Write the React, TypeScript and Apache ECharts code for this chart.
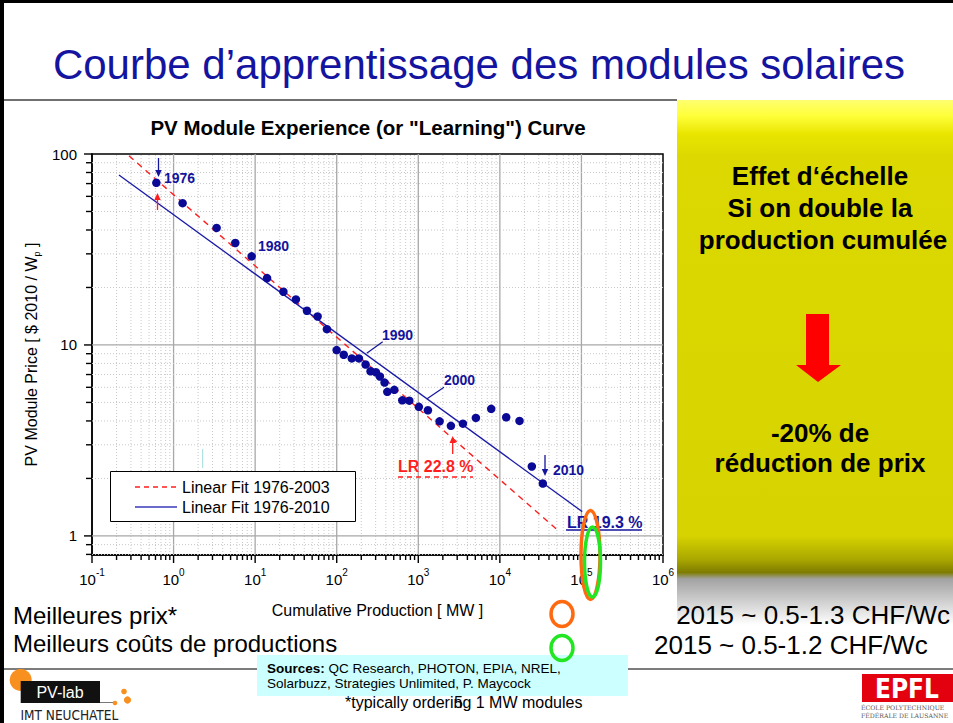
import React, { useEffect, useRef } from "react";
import * as echarts from "echarts";

const FONT = '"Liberation Sans", Arial, Helvetica, sans-serif';

// ---- data ----
const years = [
  1976, 1977, 1978, 1979, 1980, 1981, 1982, 1983, 1984, 1985, 1986, 1987,
  1988, 1989, 1990, 1991, 1992, 1993, 1994, 1995, 1996, 1997, 1998, 1999,
  2000, 2001, 2002, 2003, 2004, 2005, 2006, 2007, 2008, 2009, 2010,
];
const cumulativeMW = [
  0.615, 1.29, 3.37, 5.71, 9.06, 14.0, 22.2, 31.6, 43.2, 58.3, 75.9, 99.8,
  122, 153, 187, 226, 260, 302, 338, 386, 417, 508, 637, 776, 1016, 1312,
  1824, 2512, 3524, 5082, 7834, 11970, 17420, 24660, 33650,
];
const modulePrice = [
  70.7, 55.3, 41.0, 34.2, 29.1, 22.4, 19.0, 17.3, 15.1, 14.1, 12.1, 9.4, 8.88,
  8.5, 8.5, 7.9, 7.28, 7.2, 6.84, 6.35, 5.68, 5.82, 5.13, 5.11, 4.74, 4.55,
  3.98, 3.77, 3.87, 4.15, 4.63, 4.18, 4.0, 2.31, 1.88,
];
// fit lines, endpoints [MW, $/Wp]
const fit1976to2003 = [
  [0.284, 97.9],
  [51400, 1.07],
];
const fit1976to2010 = [
  [0.214, 77.6],
  [102300, 1.34],
];
// axes
const xMajorExp = [-1, 0, 1, 2, 3, 4, 5, 6];
const xTickLabels = ["-1", "0", "1", "2", "3", "4", "5", "6"];
const yMajorExp = [0, 1, 2];
const yTickLabels = ["1", "10", "100"];
const minorMultipliers = [2, 3, 4, 5, 6, 7, 8, 9];

const X_MIN = -1;
const X_MAX = 6;
const Y_MIN = -0.1;
const Y_MAX = 2;

function buildDecor() {
  const d: number[][] = [];
  xMajorExp.forEach((e) => d.push([0, e]));
  xMajorExp.slice(0, -1).forEach((e) =>
    minorMultipliers.forEach((m) => d.push([1, e + Math.log10(m)]))
  );
  yMajorExp.forEach((e) => d.push([2, e]));
  [-1, ...yMajorExp].forEach((e) =>
    minorMultipliers.forEach((m) => {
      const v = e + Math.log10(m);
      if (v > Y_MIN && v < Y_MAX) d.push([3, v]);
    })
  );
  return d;
}

function txt(text: string, x: number, y: number, size: number, o: any = {}) {
  const align = o.align || "left";
  return {
    type: "text",
    x,
    y,
    z: o.z ?? 20,
    silent: true,
    rotation: o.rotation || 0,
    style: {
      text,
      fill: o.color || "#000",
      fontSize: size,
      fontWeight: o.weight || "normal",
      fontFamily: o.family || FONT,
      align,
      textAlign: align,
      verticalAlign: "middle",
      textVerticalAlign: "middle",
      rich: o.rich,
      lineHeight: o.lineHeight,
    },
  };
}

function line(x1: number, y1: number, x2: number, y2: number, stroke: string, lw = 1, dash?: number[], z = 20) {
  return {
    type: "line",
    z,
    silent: true,
    shape: { x1, y1, x2, y2 },
    style: { stroke, lineWidth: lw, lineDash: dash },
  };
}

function vArrow(x: number, yFrom: number, yTo: number, color: string) {
  const dir = yTo > yFrom ? 1 : -1;
  const headLen = 7;
  return [
    line(x, yFrom, x, yTo - dir * headLen, color, 1.3),
    {
      type: "polygon",
      z: 20,
      silent: true,
      shape: {
        points: [
          [x - 3.2, yTo - dir * headLen],
          [x + 3.2, yTo - dir * headLen],
          [x, yTo],
        ],
      },
      style: { fill: color },
    },
  ];
}

function buildOption() {
  const BLUE = "#14149c";
  const RED = "#ff1e1e";
  const points = cumulativeMW.map((m, i) => [Math.log10(m), Math.log10(modulePrice[i]), years[i]]);
  const narrow = '"DejaVu Sans Condensed", "Liberation Sans Narrow", sans-serif';

  const graphic: any[] = [
    // slide frame
    { type: "rect", z: 30, silent: true, shape: { x: 0, y: 0, width: 953, height: 3 }, style: { fill: "#000" } },
    { type: "rect", z: 30, silent: true, shape: { x: 0, y: 0, width: 4, height: 723 }, style: { fill: "#000" } },
    line(4, 100, 677, 100, "#707070", 2, undefined, 1),
    line(4, 669, 953, 669, "#505050", 1.5, undefined, 1),
    txt("Courbe d\u2019apprentissage des modules solaires", 479, 64, 42, { color: "#1414a0", align: "center" }),
    // yellow panel
    {
      type: "rect",
      z: 0,
      silent: true,
      shape: { x: 677, y: 100, width: 276, height: 525 },
      style: {
        fill: new echarts.graphic.LinearGradient(0, 0, 0, 1, [
          { offset: 0, color: "#ffff70" },
          { offset: 0.03, color: "#ffff3a" },
          { offset: 0.065, color: "#e9e500" },
          { offset: 0.11, color: "#dcd800" },
          { offset: 0.83, color: "#d7d300" },
          { offset: 0.875, color: "#aaa700" },
          { offset: 0.9, color: "#7e7c00" },
          { offset: 0.912, color: "#a2a2a2" },
          { offset: 0.95, color: "#cacaca" },
          { offset: 1, color: "#ffffff" },
        ]),
      },
    },
    txt("Effet d\u2018\u00e9chelle", 820, 176, 26, { weight: "bold", align: "center" }),
    txt("Si on double la", 820, 208, 26, { weight: "bold", align: "center" }),
    txt("production cumul\u00e9e", 823, 240, 26, { weight: "bold", align: "center" }),
    {
      type: "polygon",
      z: 20,
      silent: true,
      shape: {
        points: [
          [806, 314],
          [829, 314],
          [829, 365],
          [841, 365],
          [818, 382],
          [796, 365],
          [806, 365],
        ],
      },
      style: { fill: "#ff0000" },
    },
    txt("-20% de", 820, 433, 26, { weight: "bold", align: "center" }),
    txt("r\u00e9duction de prix", 820, 463, 26, { weight: "bold", align: "center" }),
    // chart title
    txt('PV Module Experience (or "Learning") Curve', 368, 127, 20.5, { weight: "bold", align: "center" }),
    // annotations
    txt("1976", 164, 178, 14, { weight: "bold", color: BLUE }),
    ...vArrow(158.5, 158, 177, BLUE),
    ...vArrow(157.5, 210, 193, RED),
    txt("1980", 258, 246, 14, { weight: "bold", color: BLUE }),
    txt("1990", 382, 335, 14, { weight: "bold", color: BLUE }),
    line(366.7, 353.3, 382.7, 341.7, BLUE, 1.2),
    txt("2000", 444, 380, 14, { weight: "bold", color: BLUE }),
    line(426.7, 399, 444, 387.3, BLUE, 1.2),
    txt("LR 22.8 %", 398, 466, 16, { weight: "bold", color: RED }),
    line(398, 477, 473, 477, RED, 1.5, [5, 4]),
    ...vArrow(452.7, 454, 436, RED),
    txt("2010", 553, 470, 14, { weight: "bold", color: BLUE }),
    ...vArrow(545, 455, 476, BLUE),
    txt("LR 19.3 %", 567, 522, 16, { weight: "bold", color: BLUE }),
    line(566, 530, 642, 530, BLUE, 1.3),
    line(202.7, 449, 202.7, 468, "#9edcdc", 1),
    // legend box
    {
      type: "rect",
      z: 15,
      silent: true,
      shape: { x: 110.5, y: 471.5, width: 245, height: 50 },
      style: { fill: "#fff", stroke: "#000", lineWidth: 1 },
    },
    line(135, 487, 176, 487, RED, 1.4, [5, 4], 16),
    line(135, 507, 177, 507, "#6a6acc", 2, undefined, 16),
    txt("Linear Fit 1976-2003", 182, 487, 16, { z: 16 }),
    txt("Linear Fit 1976-2010", 182, 507, 16, { z: 16 }),
    // highlight ellipses
    {
      type: "ellipse",
      z: 25,
      silent: true,
      shape: { cx: 590.5, cy: 555, rx: 9.5, ry: 44.5 },
      style: { fill: "none", stroke: "#ff6a10", lineWidth: 3.5 },
    },
    {
      type: "ellipse",
      z: 26,
      silent: true,
      shape: { cx: 592.5, cy: 562, rx: 8, ry: 35 },
      style: { fill: "none", stroke: "#22e622", lineWidth: 3.5 },
    },
    {
      type: "ellipse",
      z: 25,
      silent: true,
      shape: { cx: 562, cy: 614, rx: 11, ry: 12.5 },
      style: { fill: "none", stroke: "#ff6a10", lineWidth: 3.5 },
    },
    {
      type: "ellipse",
      z: 26,
      silent: true,
      shape: { cx: 562, cy: 648, rx: 11, ry: 12.5 },
      style: { fill: "none", stroke: "#22e622", lineWidth: 3.5 },
    },
    // bottom texts
    txt("Meilleures prix*", 13, 615, 24),
    txt("Meilleurs co\u00fbts de productions", 13, 643, 24),
    txt("2015 ~ 0.5-1.3 CHF/Wc", 950, 615, 26, { align: "right" }),
    txt("2015 ~ 0.5-1.2 CHF/Wc", 654, 645, 26),
    {
      type: "rect",
      z: 22,
      silent: true,
      shape: { x: 257, y: 655, width: 371, height: 41 },
      style: { fill: "#ccffff" },
    },
    txt("{b|Sources:} QC Research, PHOTON, EPIA, NREL,\nSolarbuzz, Strategies Unlimited, P. Maycock", 267, 676, 13.5, {
      z: 23,
      lineHeight: 15,
      rich: { b: { fontWeight: "bold", fontSize: 13.5, fontFamily: FONT, fill: "#000", color: "#000" } },
    }),
    txt("*typically ordering 1 MW modules", 345, 702, 16, { z: 23 }),
    txt("5", 454, 702, 16, { z: 24 }),
    // PV-lab logo
    { type: "circle", z: 20, silent: true, shape: { cx: 20.7, cy: 680, r: 11 }, style: { fill: "#f7901e" } },
    { type: "rect", z: 21, silent: true, shape: { x: 20.7, y: 681, width: 79.3, height: 22 }, style: { fill: "#111" } },
    txt("PV-lab", 60, 692, 16, { color: "#fff", align: "center", z: 22 }),
    line(100, 702.5, 115, 702.5, "#777", 1),
    { type: "circle", z: 20, silent: true, shape: { cx: 124, cy: 691.5, r: 2.8 }, style: { fill: "#f7901e" } },
    { type: "circle", z: 20, silent: true, shape: { cx: 127.5, cy: 700, r: 3.6 }, style: { fill: "#f7901e" } },
    { type: "circle", z: 20, silent: true, shape: { cx: 115, cy: 703, r: 2.3 }, style: { fill: "#f7901e" } },
    txt("IMT NEUCHATEL", 20.5, 714.5, 13.5, { family: narrow, color: "#222" }),
    // EPFL logo
    { type: "rect", z: 20, silent: true, shape: { x: 862, y: 674, width: 91, height: 28 }, style: { fill: "#e3000f" } },
    txt("EPFL", 907, 688.5, 26, { color: "#fff", align: "center", weight: "bold", family: narrow, z: 21 }),
    txt("\u00c9COLE POLYTECHNIQUE", 861, 707, 6.2, { color: "#555", family: '"DejaVu Serif", "Liberation Serif", serif' }),
    txt("F\u00c9D\u00c9RALE DE LAUSANNE", 861, 715, 6.2, { color: "#555", family: '"DejaVu Serif", "Liberation Serif", serif' }),
  ];

  return {
    animation: false,
    backgroundColor: "#ffffff",
    textStyle: { fontFamily: FONT },
    grid: {
      left: 92,
      top: 154,
      width: 571,
      height: 401,
      show: true,
      borderColor: "#000",
      borderWidth: 1.5,
      backgroundColor: "transparent",
      containLabel: false,
      outerBoundsMode: "none",
    },
    xAxis: {
      type: "value",
      min: X_MIN,
      max: X_MAX,
      interval: 1,
      name: "Cumulative Production [ MW ]",
      nameLocation: "middle",
      nameGap: 47,
      nameTextStyle: { fontSize: 16, color: "#000", fontFamily: FONT },
      axisLine: { show: true, onZero: false, lineStyle: { color: "#000", width: 1.5 } },
      axisTick: { show: false },
      splitLine: { show: false },
      axisLabel: {
        margin: 12,
        color: "#000",
        formatter: (v: number) => {
          const i = xMajorExp.indexOf(Math.round(v));
          return i < 0 ? "" : `{b|10}{s|${xTickLabels[i]}}`;
        },
        rich: {
          b: { fontSize: 15, fontFamily: FONT, color: "#000", lineHeight: 20, verticalAlign: "bottom" },
          s: { fontSize: 10, fontFamily: FONT, color: "#000", lineHeight: 11, verticalAlign: "top" },
        },
      },
    },
    yAxis: {
      type: "value",
      min: Y_MIN,
      max: Y_MAX,
      interval: 0.1,
      name: "PV Module Price [ $ 2010 / W{p|p} ]",
      nameLocation: "middle",
      nameGap: 50,
      nameTextStyle: {
        fontSize: 16,
        color: "#000",
        fontFamily: FONT,
        lineHeight: 20,
        rich: { p: { fontSize: 9, fontFamily: FONT, color: "#000", lineHeight: 9, verticalAlign: "bottom" } },
      },
      axisLine: { show: true, onZero: false, lineStyle: { color: "#000", width: 1.5 } },
      axisTick: { show: false },
      splitLine: { show: false },
      axisLabel: {
        margin: 15,
        color: "#000",
        fontSize: 15,
        fontFamily: FONT,
        formatter: (v: number) => {
          const r = Math.round(v);
          if (Math.abs(v - r) > 1e-6) return "";
          const i = yMajorExp.indexOf(r);
          return i < 0 ? "" : yTickLabels[i];
        },
      },
    },
    graphic,
    series: [
      {
        type: "custom",
        name: "axis decorations",
        silent: true,
        z: 1,
        clip: false,
        data: buildDecor(),
        renderItem: (_p: any, api: any) => {
          const kind = api.value(0);
          const v = api.value(1);
          const children: any[] = [];
          if (kind === 0 || kind === 1) {
            const major = kind === 0;
            const b = api.coord([v, Y_MIN]);
            const t = api.coord([v, Y_MAX]);
            if (!(major && (v === X_MIN || v === X_MAX))) {
              children.push({
                type: "line",
                shape: { x1: b[0], y1: b[1], x2: t[0], y2: t[1] },
                style: major
                  ? { stroke: "#a8a8a8", lineWidth: 1.3 }
                  : { stroke: "#c8c8c8", lineWidth: 1, lineDash: [1, 2] },
              });
            }
            children.push({
              type: "line",
              shape: { x1: b[0], y1: b[1], x2: b[0], y2: b[1] + (major ? 8 : 5) },
              style: { stroke: "#000", lineWidth: 1.4 },
            });
          } else {
            const major = kind === 2;
            const l = api.coord([X_MIN, v]);
            const r = api.coord([X_MAX, v]);
            if (!(major && v === Y_MAX)) {
              children.push({
                type: "line",
                shape: { x1: l[0], y1: l[1], x2: r[0], y2: r[1] },
                style: major
                  ? { stroke: "#a8a8a8", lineWidth: 1.3 }
                  : { stroke: "#c8c8c8", lineWidth: 1, lineDash: [1, 2] },
              });
            }
            children.push({
              type: "line",
              shape: { x1: l[0], y1: l[1], x2: l[0] - (major ? 8 : 6), y2: l[1] },
              style: { stroke: "#000", lineWidth: 1.4 },
            });
          }
          return { type: "group", children };
        },
      },
      {
        type: "line",
        name: "Linear Fit 1976-2003",
        data: fit1976to2003.map(([m, p]) => [Math.log10(m), Math.log10(p)]),
        symbol: "none",
        silent: true,
        z: 3,
        lineStyle: { color: "#ff1e1e", width: 1.4, type: [6, 5] },
      },
      {
        type: "line",
        name: "Linear Fit 1976-2010",
        data: fit1976to2010.map(([m, p]) => [Math.log10(m), Math.log10(p)]),
        symbol: "none",
        silent: true,
        z: 3,
        lineStyle: { color: "#1a1aa8", width: 1.3 },
      },
      {
        type: "scatter",
        name: "PV module price",
        data: points,
        symbol: "circle",
        symbolSize: 8.5,
        z: 4,
        itemStyle: { color: "#0a0a96", opacity: 1 },
      },
    ],
  };
}

export default function App() {
  const ref = useRef<HTMLDivElement>(null);
  useEffect(() => {
    if (!ref.current) return;
    const chart = echarts.init(ref.current, undefined, { renderer: "svg" });
    chart.setOption(buildOption() as any);
    return () => chart.dispose();
  }, []);
  return (
    <div
      ref={ref}
      style={{ position: "absolute", left: 0, top: 0, width: 953, height: 723, background: "#fff" }}
    />
  );
}
